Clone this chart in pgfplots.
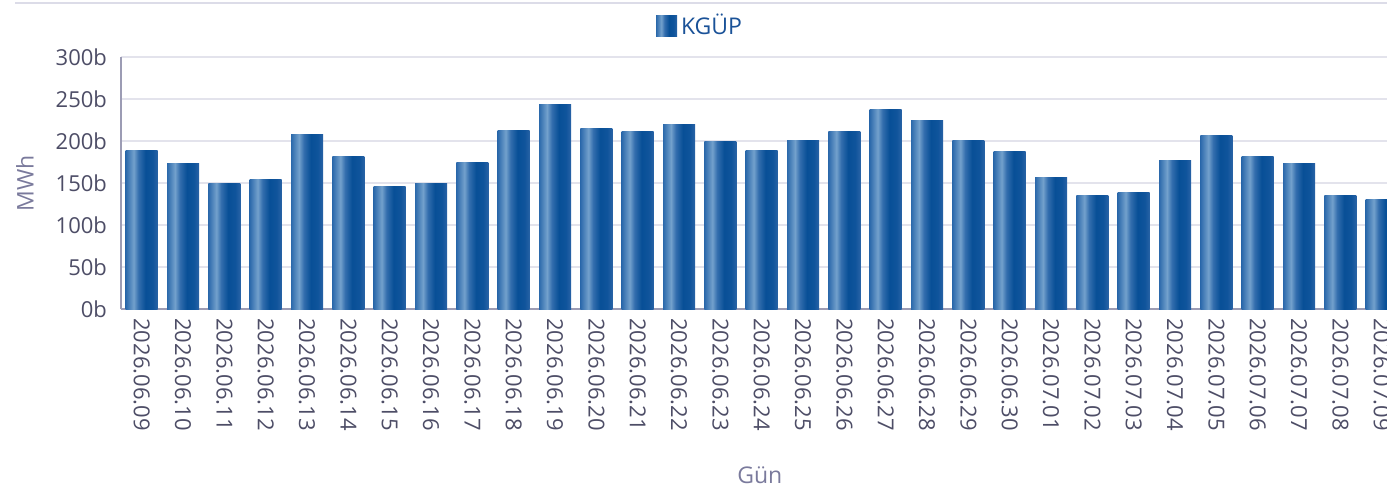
\documentclass[border=0pt]{standalone}
\usepackage{fontspec}
\setmainfont{Open Sans}
\usepackage{pgfplots}
\pgfplotsset{compat=1.18}
\definecolor{tickc}{HTML}{4D4D66}
\definecolor{labc}{HTML}{7A7A9C}
\definecolor{gridc}{HTML}{E3E3EC}
\definecolor{axc}{HTML}{9C9CB4}
\definecolor{legc}{HTML}{1A5298}
\definecolor{topc}{HTML}{DCDCE8}
\pgfdeclarehorizontalshading{barshade}{100bp}{rgb(0bp)=(0.17,0.41,0.67); rgb(25bp)=(0.17,0.41,0.67); rgb(37.5bp)=(0.45,0.63,0.80); rgb(45bp)=(0.20,0.43,0.68); rgb(56bp)=(0.03,0.31,0.59); rgb(67bp)=(0.06,0.33,0.61); rgb(75bp)=(0.16,0.39,0.65); rgb(100bp)=(0.16,0.39,0.65)}
\pgfplotsset{kbar/.style={draw=none, shading=barshade, bar shift=0pt, forget plot}}
\begin{document}
\begin{tikzpicture}
\path[use as bounding box] (0,0) rectangle (693.5pt,247pt);
\draw[topc, line width=1.2pt] (7.5pt,245.5pt) -- (693.5pt,245.5pt);
\begin{axis}[
  at={(60.5pt,92.5pt)}, anchor=south west,
  scale only axis, width=640.67pt, height=126pt,
  xmin=-0.5, xmax=30.5, ymin=0, ymax=300,
  ybar, bar width=16pt,
  axis x line*=bottom, axis y line*=left,
  axis line style={axc, line width=0.8pt},
  x axis line style={-}, y axis line style={-},
  ytick={0,50,100,150,200,250,300},
  yticklabels={0b,50b,100b,150b,200b,250b,300b},
  ymajorgrids, grid style={gridc, line width=0.8pt},
  xtick={0,...,30},
  xticklabels={2026.06.09,2026.06.10,2026.06.11,2026.06.12,2026.06.13,2026.06.14,2026.06.15,2026.06.16,2026.06.17,2026.06.18,2026.06.19,2026.06.20,2026.06.21,2026.06.22,2026.06.23,2026.06.24,2026.06.25,2026.06.26,2026.06.27,2026.06.28,2026.06.29,2026.06.30,2026.07.01,2026.07.02,2026.07.03,2026.07.04,2026.07.05,2026.07.06,2026.07.07,2026.07.08,2026.07.09},
  major tick length=0pt,
  /pgf/number format/assume math mode=true,
  tick label style={tickc, font=\fontsize{11}{13}\selectfont},
  yticklabel style={xshift=-3.5pt},
  xticklabel style={rotate=-90, anchor=west, inner sep=0pt, xshift=4.5pt},
  xlabel={Gün}, ylabel={MWh},
  label style={labc, font=\fontsize{11.5}{13}\selectfont},
  xlabel style={at={(axis description cs:0.4985,-0.659)}, anchor=center},
  ylabel style={at={(axis description cs:-0.075,0.5)}, anchor=center},
  legend style={at={(axis description cs:0.4527,1.123)}, anchor=center, draw=none, fill=none,
    font=\fontsize{11.5}{13}\selectfont, text=legc, inner sep=0pt},
  legend image code/.code={\shade[shading=barshade] (0pt,-5.25pt) rectangle (10.5pt,5.25pt);},
]
\addplot[draw=none, shading=barshade, bar shift=0pt] coordinates {(0,189)};
\addlegendentry{KGÜP}
\addplot[kbar] coordinates {(1,173)};
\addplot[kbar] coordinates {(2,149)};
\addplot[kbar] coordinates {(3,154)};
\addplot[kbar] coordinates {(4,208)};
\addplot[kbar] coordinates {(5,182)};
\addplot[kbar] coordinates {(6,146)};
\addplot[kbar] coordinates {(7,149)};
\addplot[kbar] coordinates {(8,175)};
\addplot[kbar] coordinates {(9,213)};
\addplot[kbar] coordinates {(10,244)};
\addplot[kbar] coordinates {(11,215)};
\addplot[kbar] coordinates {(12,211)};
\addplot[kbar] coordinates {(13,220)};
\addplot[kbar] coordinates {(14,199)};
\addplot[kbar] coordinates {(15,189)};
\addplot[kbar] coordinates {(16,201)};
\addplot[kbar] coordinates {(17,211)};
\addplot[kbar] coordinates {(18,237)};
\addplot[kbar] coordinates {(19,225)};
\addplot[kbar] coordinates {(20,201)};
\addplot[kbar] coordinates {(21,187)};
\addplot[kbar] coordinates {(22,156)};
\addplot[kbar] coordinates {(23,135)};
\addplot[kbar] coordinates {(24,139)};
\addplot[kbar] coordinates {(25,177)};
\addplot[kbar] coordinates {(26,206)};
\addplot[kbar] coordinates {(27,182)};
\addplot[kbar] coordinates {(28,173)};
\addplot[kbar] coordinates {(29,135)};
\addplot[kbar] coordinates {(30,130)};
\end{axis}
\end{tikzpicture}
\end{document}
